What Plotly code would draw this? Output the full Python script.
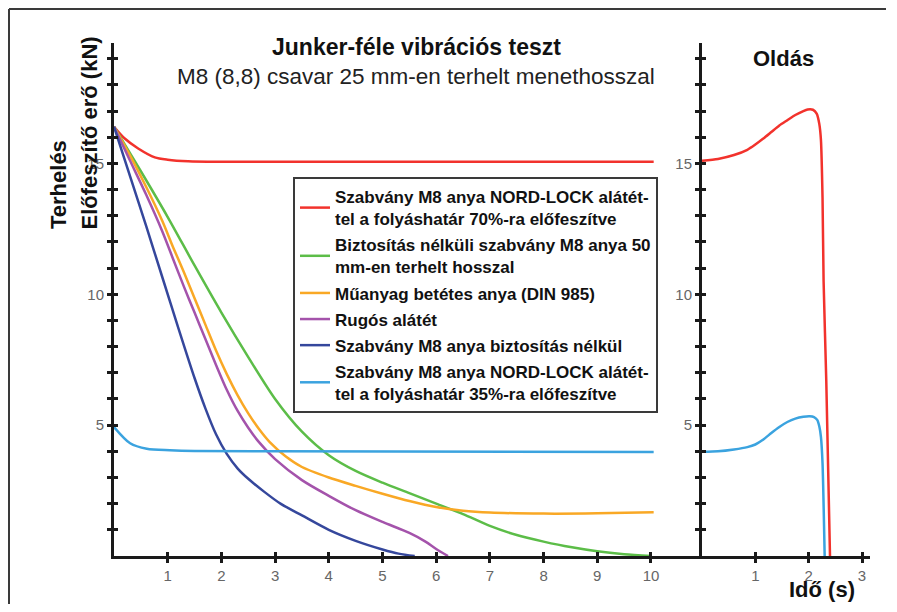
import plotly.graph_objects as go

PAGE_W, PAGE_H = 897, 612
OFF = 8  # page body margin of the written html
W, H = PAGE_W - 2 * OFF, PAGE_H - 2 * OFF  # keep the figure inside the window

# ---------------- data ----------------
names = [
    "Szabvány M8 anya NORD-LOCK alátét-<br>tel a folyáshatár 70%-ra előfeszítve",
    "Biztosítás nélküli szabvány M8 anya 50<br>mm-en terhelt hosszal",
    "Műanyag betétes anya (DIN 985)",
    "Rugós alátét",
    "Szabvány M8 anya biztosítás nélkül",
    "Szabvány M8 anya NORD-LOCK alátét-<br>tel a folyáshatár 35%-ra előfeszítve",
]
colors = ["#f2322c", "#5cbd48", "#f9a825", "#a453ab", "#35479c", "#3ba3df"]

# left panel (vibration test)
red_x = [0, 0.2, 0.45, 0.76, 1.0, 1.38, 2.0, 10.05]
red_y = [16.4, 15.95, 15.57, 15.23, 15.14, 15.08, 15.06, 15.06]

green_x = [0, 0.5, 1.0, 1.5, 2.0, 2.5, 3.0, 3.5, 4.0, 4.5, 5.0, 5.5, 6.0, 6.5, 7.0, 7.5, 8.0,
           8.5, 9.0, 9.5, 10.0]
green_y = [16.4, 14.7, 12.95, 11.1, 9.3, 7.6, 6.0, 4.75, 3.85, 3.25, 2.8, 2.4, 2.0, 1.6, 1.15,
           0.8, 0.55, 0.34, 0.18, 0.07, 0.0]

orange_x = [0, 0.3, 0.6, 0.9, 1.1, 1.3, 1.5, 1.7, 1.9, 2.1, 2.3, 2.5, 2.7, 2.9, 3.2, 3.5, 4.0,
            4.5, 5.0, 5.5, 6.0, 6.5, 7.0, 8.0, 9.0, 10.05]
orange_y = [16.4, 15.3, 14.1, 12.8, 11.8, 10.85, 9.85, 8.85, 7.85, 6.95, 6.15, 5.45, 4.85, 4.35,
            3.8, 3.4, 3.0, 2.68, 2.38, 2.1, 1.87, 1.73, 1.66, 1.62, 1.63, 1.67]

purple_x = [0, 0.3, 0.6, 0.9, 1.1, 1.3, 1.5, 1.7, 1.9, 2.1, 2.3, 2.5, 2.7, 3.0, 3.5, 4.0, 4.5,
            5.0, 5.5, 5.8, 6.0, 6.22]
purple_y = [16.4, 15.1, 13.8, 12.4, 11.35, 10.3, 9.3, 8.3, 7.3, 6.35, 5.55, 4.9, 4.35, 3.7, 2.9,
            2.3, 1.75, 1.3, 0.88, 0.55, 0.27, 0.0]

blue_x = [0, 0.3, 0.6, 0.9, 1.2, 1.5, 1.7, 1.9, 2.1, 2.3, 2.5, 2.8, 3.1, 3.5, 4.0, 4.5, 5.0,
          5.3, 5.6]
blue_y = [16.4, 14.5, 12.6, 10.65, 8.7, 6.8, 5.65, 4.65, 3.9, 3.35, 2.95, 2.45, 2.0, 1.55, 1.0,
          0.58, 0.25, 0.09, 0.0]

lblue_x = [0, 0.3, 0.61, 1.04, 1.5, 3.0, 10.05]
lblue_y = [4.93, 4.31, 4.1, 4.04, 4.01, 4.0, 3.97]

# right panel (loosening)
red_r_x = [0, 0.3, 0.6, 0.85, 1.0, 1.15, 1.3, 1.45, 1.6, 1.75, 1.9, 1.98, 2.08, 2.15, 2.2,
           2.23, 2.26, 2.28, 2.33, 2.4]
red_r_y = [15.1, 15.17, 15.32, 15.52, 15.72, 15.95, 16.2, 16.45, 16.65, 16.85, 17.0, 17.06,
           17.05, 16.9, 16.5, 15.9, 13.7, 10.5, 6.7, 0.0]

lblue_r_x = [0, 0.3, 0.6, 0.85, 1.0, 1.15, 1.3, 1.45, 1.6, 1.75, 1.9, 2.02, 2.1, 2.16, 2.2,
             2.23, 2.26, 2.3]
lblue_r_y = [3.98, 4.0, 4.07, 4.16, 4.26, 4.45, 4.7, 4.93, 5.12, 5.25, 5.32, 5.34, 5.31, 5.2,
             4.95, 4.55, 3.55, 0.0]

left_xticks = [1, 2, 3, 4, 5, 6, 7, 8, 9, 10]
right_xticks = [1, 2, 3]
yticks = list(range(1, 20))
ylabels = ["5" if v == 5 else "10" if v == 10 else "15" if v == 15 else "" for v in yticks]

# ---------------- figure ----------------
def px_x(p):
    return (p - OFF) / W

def px_y(p):
    return 1 - (p - OFF) / H

fig = go.Figure()

left_series = [(red_x, red_y), (green_x, green_y), (orange_x, orange_y),
               (purple_x, purple_y), (blue_x, blue_y), (lblue_x, lblue_y)]
for i, (xs, ys) in enumerate(left_series):
    fig.add_trace(go.Scatter(x=xs, y=ys, mode="lines", name=names[i],
                             legendgroup="g%d" % i,
                             line=dict(color=colors[i], width=2.5, shape="spline", smoothing=0.8),
                             xaxis="x", yaxis="y"))

fig.add_trace(go.Scatter(x=red_r_x, y=red_r_y, mode="lines", showlegend=False,
                         line=dict(color=colors[0], width=2.5, shape="spline", smoothing=0.6),
                         xaxis="x2", yaxis="y2"))
fig.add_trace(go.Scatter(x=lblue_r_x, y=lblue_r_y, mode="lines", showlegend=False,
                         line=dict(color=colors[5], width=2.5, shape="spline", smoothing=0.6),
                         xaxis="x2", yaxis="y2"))

# empty traces to host the inner tick axes
fig.add_trace(go.Scatter(x=[], y=[], showlegend=False, xaxis="x3", yaxis="y3"))
fig.add_trace(go.Scatter(x=[], y=[], showlegend=False, xaxis="x4", yaxis="y4"))

ydom = [px_y(556), px_y(43)]
xdom_l = [px_x(114), px_x(702)]
xdom_r = [px_x(702), px_x(870)]
XR_L = [0, 10.95]
XR_R = [0, 3.15]
YR = [0, 19.6]

tickfont = dict(family="Liberation Sans, Arial, sans-serif", size=15, color="#666666")
common_ax = dict(showgrid=False, zeroline=False, showline=True, linewidth=3, linecolor="#1a1a1a",
                 ticks="outside", ticklen=4, tickwidth=2.5, tickcolor="#1a1a1a", tickfont=tickfont)
inner_ax = dict(showgrid=False, zeroline=False, showline=False, ticks="inside", ticklen=4,
                tickwidth=2.5, tickcolor="#1a1a1a", showticklabels=False)

fig.update_layout(
    width=W, height=H,
    margin=dict(l=0, r=0, t=0, b=0),
    paper_bgcolor="white", plot_bgcolor="rgba(0,0,0,0)",
    font=dict(family="Liberation Sans, Arial, sans-serif", color="#111111"),
    xaxis=dict(domain=xdom_l, range=XR_L, tickvals=left_xticks, anchor="y", **common_ax),
    yaxis=dict(domain=ydom, range=YR, tickvals=yticks, ticktext=ylabels, anchor="x", **common_ax),
    xaxis2=dict(domain=xdom_r, range=XR_R, tickvals=right_xticks, anchor="y2", **common_ax),
    yaxis2=dict(domain=ydom, range=YR, tickvals=yticks, ticktext=ylabels, anchor="x2", **common_ax),
    xaxis3=dict(overlaying="x", range=XR_L, tickvals=left_xticks, anchor="y3", **inner_ax),
    yaxis3=dict(overlaying="y", range=YR, tickvals=yticks, anchor="x3", side="left", **inner_ax),
    xaxis4=dict(overlaying="x2", range=XR_R, tickvals=right_xticks, anchor="y4", **inner_ax),
    yaxis4=dict(overlaying="y2", range=YR, tickvals=yticks, anchor="x4", side="left", **inner_ax),
    legend=dict(x=px_x(293), y=px_y(177), xanchor="left", yanchor="top",
                bgcolor="white", bordercolor="#3a3a3a", borderwidth=2,
                font=dict(family="Liberation Sans, Arial, sans-serif", size=17, color="#111111",
                          weight="bold"),
                tracegroupgap=1, valign="middle"),
    showlegend=True,
)

bold = dict(family="Liberation Sans, Arial, sans-serif", size=22, color="#111111", weight="bold")
ann = [
    dict(text="Junker-féle vibrációs teszt", x=px_x(416), y=px_y(47), yanchor="middle",
         font=dict(family="Liberation Sans, Arial, sans-serif", size=23, color="#111111", weight="bold")),
    dict(text="M8 (8,8) csavar 25 mm-en terhelt menethosszal", x=px_x(416), y=px_y(77),
         yanchor="middle",
         font=dict(family="Liberation Sans, Arial, sans-serif", size=22.5, color="#222222")),
    dict(text="Oldás", x=px_x(783), y=px_y(58), yanchor="middle", font=bold),
    dict(text="Idő (s)", x=px_x(822), y=px_y(603.5), yanchor="bottom", font=bold),
    dict(text="Terhelés", x=px_x(58), y=px_y(185), yanchor="middle", textangle=-90, font=bold),
    dict(text="Előfeszítő erő (kN)", x=px_x(89), y=px_y(133.5), yanchor="middle",
         textangle=-90, font=bold),
]
for a in ann:
    fig.add_annotation(xref="paper", yref="paper", showarrow=False, xanchor="center", **a)

# outer frame: top and left edges of the picture's border
frame = dict(color="#3a3a3a", width=2)
fig.add_shape(type="line", xref="paper", yref="paper",
              x0=px_x(9), y0=px_y(9), x1=px_x(886), y1=px_y(9), line=frame, layer="below")
fig.add_shape(type="line", xref="paper", yref="paper",
              x0=px_x(9), y0=px_y(9), x1=px_x(9), y1=0, line=frame, layer="below")

fig.write_html("out.html")
